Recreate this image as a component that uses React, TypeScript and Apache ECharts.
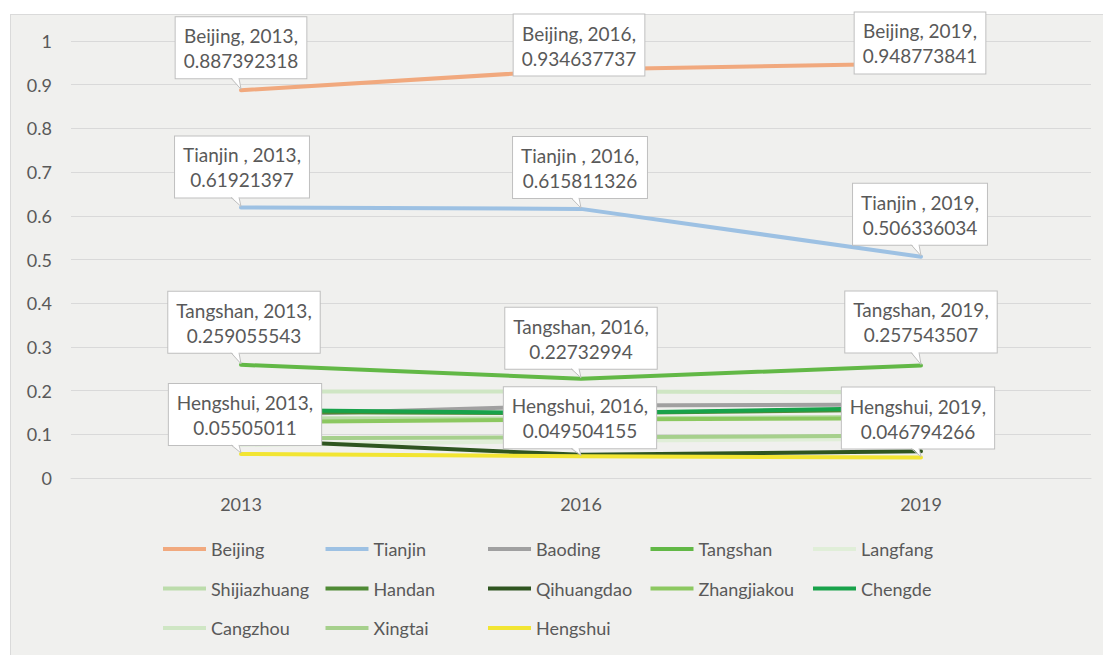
import React, { useEffect, useRef } from 'react';
import * as echarts from 'echarts';

const years = ['2013', '2016', '2019'];
const yTickLabels = ['0', '0.1', '0.2', '0.3', '0.4', '0.5', '0.6', '0.7', '0.8', '0.9', '1'];

const cityNames = [
  'Beijing', 'Tianjin', 'Baoding', 'Tangshan', 'Langfang',
  'Shijiazhuang', 'Handan', 'Qihuangdao', 'Zhangjiakou', 'Chengde',
  'Cangzhou', 'Xingtai', 'Hengshui',
];

const beijing = [0.887392318, 0.934637737, 0.948773841];
const tianjin = [0.61921397, 0.615811326, 0.506336034];
const baoding = [0.143, 0.166, 0.168];
const tangshan = [0.259055543, 0.22732994, 0.257543507];
const langfang = [0.076, 0.085, 0.09];
const shijiazhuang = [0.137, 0.136, 0.141];
const handan = [0.151, 0.148, 0.157];
const qihuangdao = [0.087, 0.053, 0.061];
const zhangjiakou = [0.128, 0.134, 0.137];
const chengde = [0.156, 0.148, 0.161];
const cangzhou = [0.198, 0.198, 0.196];
const xingtai = [0.091, 0.093, 0.097];
const hengshui = [0.05505011, 0.049504155, 0.046794266];

const seriesValues = [
  beijing, tianjin, baoding, tangshan, langfang,
  shijiazhuang, handan, qihuangdao, zhangjiakou, chengde,
  cangzhou, xingtai, hengshui,
];

const colors = [
  '#f1a97e', '#9dc1e3', '#a0a0a0', '#62b846', '#e0eed8',
  '#bcdcab', '#4f8a35', '#2f5520', '#8cc860', '#18a24a',
  '#cfe6c4', '#a6d08c', '#f2e532',
];

// callouts: city, label prefix, values, per-point offsets (dx, box-bottom relative to point)
const callouts = [
  { name: 'Beijing', prefix: 'Beijing', values: beijing, offs: [[0, -12], [-2, 6], [-1, 10]] },
  { name: 'Tianjin', prefix: 'Tianjin ', values: tianjin, offs: [[1, -10], [-1, -11], [-1, -12]] },
  { name: 'Tangshan', prefix: 'Tangshan', values: tangshan, offs: [[3, -12], [0, -10], [0, -13]] },
  { name: 'Hengshui', prefix: 'Hengshui', values: hengshui, offs: [[4, -9], [-1, -8], [-3, -9]] },
];

const FONT = 'Lato, "Open Sans", sans-serif';
const TEXT = '#595959';

function calloutSeries(c: any) {
  return {
    type: 'custom',
    name: c.name + ' callout',
    coordinateSystem: 'cartesian2d',
    clip: false,
    silent: true,
    z: 20,
    data: c.values.map((v: number, i: number) => [i, v]),
    renderItem: (params: any, api: any) => {
      const i = params.dataIndex;
      const v = c.values[i];
      const p = api.coord([i, v]);
      const px = p[0];
      const py = p[1];
      const dx = c.offs[i][0];
      const dy = c.offs[i][1];
      const bottom = py + dy;
      const cx = px + dx;
      const children: any[] = [
        {
          type: 'text',
          z2: 1,
          style: {
            text: c.prefix + ', ' + years[i] + ',\n' + String(v),
            x: cx,
            y: bottom,
            align: 'center',
            verticalAlign: 'bottom',
            fill: TEXT,
            fontSize: 19,
            fontFamily: FONT,
            lineHeight: 25,
            backgroundColor: '#ffffff',
            borderColor: '#bfbfbf',
            borderWidth: 1,
            padding: [6, 8, 5, 8],
          },
        },
      ];
      if (dy < 0) {
        children.push({
          type: 'polygon',
          z2: 2,
          shape: { points: [[px - 10, bottom - 1.5], [px - 2, bottom - 1.5], [px, py - 1]] },
          style: { fill: '#ffffff' },
        });
        children.push({
          type: 'polyline',
          z2: 3,
          shape: { points: [[px - 10, bottom], [px, py - 1], [px - 2, bottom]] },
          style: { stroke: '#bfbfbf', lineWidth: 1, fill: null },
        });
      }
      return { type: 'group', children };
    },
  };
}

export default function App() {
  const ref = useRef<HTMLDivElement>(null);
  useEffect(() => {
    if (!ref.current) return;
    const chart = echarts.init(ref.current, undefined, { renderer: 'svg' });
    const lineSeries = cityNames.map((n, k) => ({
      type: 'line',
      name: n,
      data: seriesValues[k],
      color: colors[k],
      symbol: 'none',
      lineStyle: { width: 4, color: colors[k], cap: 'round', join: 'round' },
      z: 2,
    }));
    // one legend per item so that items sit in aligned columns
    const legends = cityNames.map((n, k) => ({
      data: [n],
      left: 163 + (k % 5) * 162.5,
      top: 540 + Math.floor(k / 5) * 39.5,
      padding: 0,
      icon: 'rect',
      itemWidth: 43,
      itemHeight: 4,
      itemGap: 5,
      selectedMode: false,
      textStyle: { color: TEXT, fontSize: 18, fontFamily: FONT },
    }));
    chart.setOption({
      animation: false,
      backgroundColor: 'transparent',
      grid: { left: 71, right: 12, top: 41, bottom: 177, containLabel: false },
      xAxis: {
        type: 'category',
        data: years,
        boundaryGap: true,
        axisLine: { lineStyle: { color: '#d9d9d9', width: 1 } },
        axisTick: { show: false },
        axisLabel: { color: TEXT, fontSize: 18, fontFamily: FONT, margin: 17 },
      },
      yAxis: {
        type: 'value',
        min: 0,
        max: 1,
        interval: 0.1,
        axisLine: { show: false },
        axisTick: { show: false },
        splitLine: { lineStyle: { color: '#d9d9d9', width: 1 } },
        axisLabel: {
          color: TEXT,
          fontSize: 18,
          fontFamily: FONT,
          margin: 19,
          formatter: (v: number) => yTickLabels[Math.round(v * 10)],
        },
      },
      legend: legends,
      series: [...lineSeries, ...callouts.map(calloutSeries)],
    });
    return () => chart.dispose();
  }, []);
  return (
    <div style={{ position: 'fixed', left: 0, top: 0, width: 1103, height: 655, background: '#ffffff' }}>
      <div
        style={{
          position: 'absolute',
          left: 10,
          top: 14,
          width: 1093,
          height: 641,
          background: '#f0f0ee',
          borderLeft: '1px solid #dadada',
          borderTop: '1px solid #dadada',
          boxSizing: 'border-box',
        }}
      />
      <div ref={ref} style={{ position: 'absolute', left: 0, top: 0, width: 1103, height: 655 }} />
    </div>
  );
}
